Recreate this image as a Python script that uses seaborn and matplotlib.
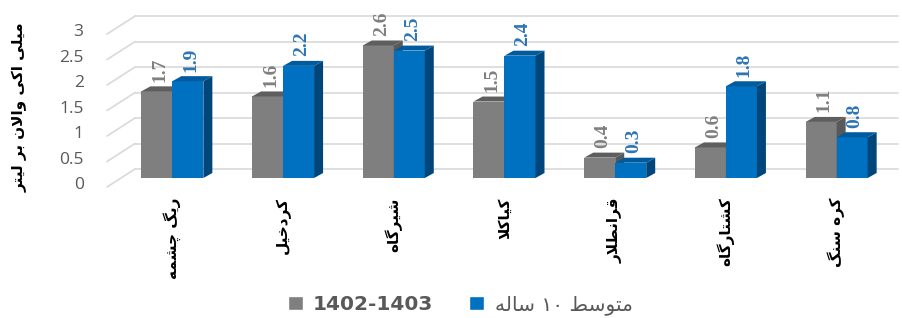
import matplotlib
matplotlib.use("Agg")
import matplotlib.pyplot as plt
from matplotlib.patches import Polygon, Patch
from matplotlib.transforms import ScaledTranslation
import pandas as pd
import seaborn as sns

# data
stations = ["ریگ چشمه", "کردخیل", "شیرگاه", "کیاکلا", "قرانطلار", "کشتارگاه", "کره سنگ"]
series_names = ["1402-1403", "متوسط ۱۰ ساله"]
vals_1402 = [1.7, 1.6, 2.6, 1.5, 0.4, 0.6, 1.1]
vals_mean10 = [1.9, 2.2, 2.5, 2.4, 0.3, 1.8, 0.8]
y_ticks = [0, 0.5, 1, 1.5, 2, 2.5, 3]
y_label = "میلی اکی والان بر لیتر"

# --- minimal Persian shaping (matplotlib has no bidi / joining support) ---
FORMS = {  # isolated, final, initial, medial
    "ا": ("\uFE8D", "\uFE8E", None, None),
    "ب": ("\uFE8F", "\uFE90", "\uFE91", "\uFE92"),
    "ت": ("\uFE95", "\uFE96", "\uFE97", "\uFE98"),
    "ج": ("\uFE9D", "\uFE9E", "\uFE9F", "\uFEA0"),
    "چ": ("\uFB7A", "\uFB7B", "\uFB7C", "\uFB7D"),
    "ح": ("\uFEA1", "\uFEA2", "\uFEA3", "\uFEA4"),
    "خ": ("\uFEA5", "\uFEA6", "\uFEA7", "\uFEA8"),
    "د": ("\uFEA9", "\uFEAA", None, None),
    "ر": ("\uFEAD", "\uFEAE", None, None),
    "ز": ("\uFEAF", "\uFEB0", None, None),
    "س": ("\uFEB1", "\uFEB2", "\uFEB3", "\uFEB4"),
    "ش": ("\uFEB5", "\uFEB6", "\uFEB7", "\uFEB8"),
    "ط": ("\uFEC1", "\uFEC2", "\uFEC3", "\uFEC4"),
    "ق": ("\uFED5", "\uFED6", "\uFED7", "\uFED8"),
    "ک": ("\uFB8E", "\uFB8F", "\uFB90", "\uFB91"),
    "گ": ("\uFB92", "\uFB93", "\uFB94", "\uFB95"),
    "ل": ("\uFEDD", "\uFEDE", "\uFEDF", "\uFEE0"),
    "م": ("\uFEE1", "\uFEE2", "\uFEE3", "\uFEE4"),
    "ن": ("\uFEE5", "\uFEE6", "\uFEE7", "\uFEE8"),
    "ه": ("\uFEE9", "\uFEEA", "\uFEEB", "\uFEEC"),
    "و": ("\uFEED", "\uFEEE", None, None),
    "ی": ("\uFBFC", "\uFBFD", "\uFBFE", "\uFBFF"),
}
LAM_ALEF = ("\uFEFB", "\uFEFC")


def dual(c):
    return c in FORMS and FORMS[c][2] is not None


def shape(text):
    out = []
    chars = list(text)
    i = 0
    while i < len(chars):
        c = chars[i]
        if c not in FORMS:
            out.append(c)
            i += 1
            continue
        prev_joins = i > 0 and dual(chars[i - 1])
        if c == "ل" and i + 1 < len(chars) and chars[i + 1] == "ا":
            out.append(LAM_ALEF[1] if prev_joins else LAM_ALEF[0])
            i += 2
            continue
        next_joins = dual(c) and i + 1 < len(chars) and chars[i + 1] in FORMS
        f = FORMS[c]
        if prev_joins and next_joins:
            out.append(f[3])
        elif prev_joins:
            out.append(f[1])
        elif next_joins:
            out.append(f[2])
        else:
            out.append(f[0])
        i += 1
    # visual order: reverse, but keep digit runs left-to-right
    runs, buf = [], ""
    for ch in out:
        if ch.isdigit():
            buf += ch
        else:
            if buf:
                runs.append(buf)
                buf = ""
            runs.append(ch)
    if buf:
        runs.append(buf)
    return "".join(reversed(runs))


df = pd.DataFrame({
    "station": stations * 2,
    "series": [series_names[0]] * len(stations) + [series_names[1]] * len(stations),
    "value": vals_1402 + vals_mean10,
})

gray, blue = "#7f7f7f", "#0070c0"
top_cols = ["#5e5e5e", "#005a9e"]
side_cols = ["#595959", "#00467a"]
label_cols = ["#7f7f7f", "#2e75b6"]

sns.set_style("white")
plt.rcParams["font.family"] = ["DejaVu Sans"]

fig = plt.figure(figsize=(9.03, 3.18), dpi=100)
ax = fig.add_axes([117 / 903, (318 - 178) / 318, 775 / 903, 158 / 318])

sns.barplot(data=df, x="station", y="value", hue="series", hue_order=series_names,
            palette=[gray, blue], width=0.56, saturation=1, ax=ax, legend=False,
            linewidth=0)

ax.set_xlim(-0.5, len(stations) - 0.5)
ax.set_ylim(0, 3.1)
for s in ax.spines.values():
    s.set_visible(False)

# depth of the pseudo-3d look, in data units (≈9 px right, 5 px up)
dx = 9 / 110.7
dy = 5 / 51.0
wall = 9 / 51.0  # back wall sits 9 px above the bar floor

# back wall grid + left side wall
x_back0 = (135 - 117) / 110.7 - 0.5
x_back1 = (898 - 117) / 110.7 - 0.5
x_front = (107 - 117) / 110.7 - 0.5
for v in y_ticks:
    ax.plot([x_back0, x_back1], [v + wall, v + wall], color="#d9d9d9", lw=1.2,
            zorder=0, clip_on=False)
    ax.plot([x_front, x_back0], [v - wall, v + wall], color="#d9d9d9", lw=1.2,
            zorder=0, clip_on=False)

for k, cont in enumerate(ax.containers):
    base_z = 2 + 2 * k
    for bar in cont:
        x0, w, h = bar.get_x(), bar.get_width(), bar.get_height()
        bar.set_zorder(base_z)
        side = Polygon([(x0 + w, 0), (x0 + w + dx, dy), (x0 + w + dx, h + dy), (x0 + w, h)],
                       closed=True, facecolor=side_cols[k], edgecolor="none", zorder=base_z + 0.5)
        top = Polygon([(x0, h), (x0 + w, h), (x0 + w + dx, h + dy), (x0 + dx, h + dy)],
                      closed=True, facecolor=top_cols[k], edgecolor="none", zorder=base_z + 0.5)
        ax.add_patch(side)
        ax.add_patch(top)
        ax.text(x0 + w / 2 + dx / 3, h + dy + 0.09, f"{h:.1f}", rotation=90,
                ha="center", va="bottom", fontsize=14, fontweight="bold",
                family="Liberation Serif", color=label_cols[k], zorder=10, clip_on=False)

ax.set_yticks(y_ticks)
ax.set_yticklabels([f"{v:g}" for v in y_ticks])
ax.tick_params(axis="y", length=0, pad=24, labelsize=12.5, labelcolor="#595959")
off = ScaledTranslation(0, -0.05, fig.dpi_scale_trans)
for lab in ax.get_yticklabels():
    lab.set_transform(lab.get_transform() + off)
    lab.set_family("Open Sans")

ax.set_xticks(range(len(stations)))
ax.set_xticklabels([shape(s) for s in stations], rotation=90, va="top", ha="center",
                   fontsize=11, fontweight="bold", color="black")
ax.tick_params(axis="x", length=0, pad=14)
ax.set_xlabel("")
ax.set_ylabel("")

fig.text(20 / 903, 1 - 107 / 318, shape(y_label), rotation=90, ha="center", va="center",
         fontsize=11, fontweight="bold", color="black")

handles = [Patch(facecolor=gray), Patch(facecolor=blue)]
leg = fig.legend(handles, [series_names[0], shape(series_names[1])], loc="center",
                 bbox_to_anchor=(460 / 903, 1 - 305 / 318), ncol=2, frameon=False,
                 fontsize=14.5, handlelength=0.75, handleheight=0.75, handletextpad=0.5,
                 columnspacing=1.8)
for t in leg.get_texts():
    t.set_color("#595959")
leg.get_texts()[0].set_fontweight("bold")

fig.savefig("out.png", dpi=100)
